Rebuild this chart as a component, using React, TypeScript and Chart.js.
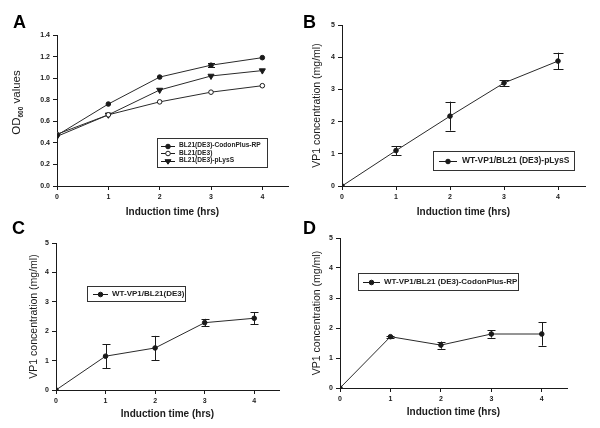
import React, { useEffect, useRef } from 'react';
import { Chart, registerables } from 'chart.js';

Chart.register(...registerables);

// ---------------- data ----------------
const times = [0, 1, 2, 3, 4];

// Panel A: OD600 growth curves
const aCodonPlus = [0.47, 0.76, 1.01, 1.12, 1.19];
const aCodonPlusErr = [0, 0, 0, 0.02, 0];
const aBL21 = [0.48, 0.66, 0.78, 0.87, 0.93];
const aBL21Err = [0, 0, 0, 0, 0];
const aPLysS = [0.46, 0.66, 0.89, 1.02, 1.07];
const aPLysSErr = [0, 0, 0, 0, 0];
const aLabels = ['BL21(DE3)-CodonPlus-RP', 'BL21(DE3)', 'BL21(DE3)-pLysS'];

// Panel B: VP1 in BL21 (DE3)-pLysS
const bValues = [0, 1.1, 2.17, 3.2, 3.88];
const bErrors = [0, 0.14, 0.45, 0.09, 0.26];
const bLabel = 'WT-VP1/BL21 (DE3)-pLysS';

// Panel C: VP1 in BL21(DE3)
const cValues = [0, 1.15, 1.43, 2.29, 2.44];
const cErrors = [0, 0.41, 0.41, 0.13, 0.2];
const cLabel = 'WT-VP1/BL21(DE3)';

// Panel D: VP1 in BL21 (DE3)-CodonPlus-RP
const dValues = [0, 1.71, 1.43, 1.8, 1.8];
const dErrors = [0, 0.03, 0.12, 0.12, 0.39];
const dLabel = 'WT-VP1/BL21 (DE3)-CodonPlus-RP';

const xTitle = 'Induction time (hrs)';
const vpTitle = 'VP1 concentration (mg/ml)';
const letters = ['A', 'B', 'C', 'D'];

// ---------------- styling ----------------
const FONT = "'Liberation Sans', Arial, sans-serif";
const INK = '#1a1a1a';
Chart.defaults.font.family = FONT;
Chart.defaults.color = INK;

type Series = {
  label: string;
  values: number[];
  errors: number[];
  style: 'circle' | 'triangle';
  open?: boolean;
  radius: number;
  rotation?: number;
};

type Panel = {
  left: number; top: number; width: number; height: number;
  area: { l: number; t: number; r: number; b: number };
  yMax: number; yStep: number; yDigits: number;
  yTitle: string | null; yTitlePad: number;
  xTitlePad: number;
  letter: string; letterX: number; letterY: number;
  series: Series[];
  legend: {
    x: number; y: number; w: number; h: number;
    font: string; rows: number[]; lx0: number; lx1: number; tx: number;
  };
  capHalf: number;
};

const panels: Panel[] = [
  {
    left: 0, top: 0, width: 300, height: 222,
    area: { l: 57, t: 35, r: 288, b: 186 },
    yMax: 1.4, yStep: 0.2, yDigits: 1,
    yTitle: null, yTitlePad: 0, xTitlePad: 4,
    letter: letters[0], letterX: 13, letterY: 28,
    series: [
      { label: aLabels[0], values: aCodonPlus, errors: aCodonPlusErr, style: 'circle', radius: 2.3 },
      { label: aLabels[1], values: aBL21, errors: aBL21Err, style: 'circle', open: true, radius: 2.3 },
      { label: aLabels[2], values: aPLysS, errors: aPLysSErr, style: 'triangle', rotation: 180, radius: 3 },
    ],
    legend: { x: 157, y: 138, w: 110, h: 29, font: 'bold 6.6px ' + FONT, rows: [145.5, 153, 160.5], lx0: 161, lx1: 175, tx: 179 },
    capHalf: 3.5,
  },
  {
    left: 300, top: 0, width: 300, height: 222,
    area: { l: 42, t: 25, r: 285, b: 186 },
    yMax: 5, yStep: 1, yDigits: 0,
    yTitle: vpTitle, yTitlePad: 11, xTitlePad: 4,
    letter: letters[1], letterX: 3, letterY: 28,
    series: [{ label: bLabel, values: bValues, errors: bErrors, style: 'circle', radius: 2.3 }],
    legend: { x: 133, y: 151, w: 141, h: 19, font: 'bold 8.5px ' + FONT, rows: [161], lx0: 139, lx1: 157, tx: 162 },
    capHalf: 5,
  },
  {
    left: 0, top: 210, width: 300, height: 218,
    area: { l: 56, t: 33, r: 279, b: 180 },
    yMax: 5, yStep: 1, yDigits: 0,
    yTitle: vpTitle, yTitlePad: 28, xTitlePad: 8,
    letter: letters[2], letterX: 12, letterY: 24,
    series: [{ label: cLabel, values: cValues, errors: cErrors, style: 'circle', radius: 2.3 }],
    legend: { x: 87, y: 76, w: 98, h: 15, font: 'bold 8px ' + FONT, rows: [83.5], lx0: 93, lx1: 108, tx: 112 },
    capHalf: 4,
  },
  {
    left: 300, top: 210, width: 300, height: 218,
    area: { l: 40, t: 28, r: 267, b: 178 },
    yMax: 5, yStep: 1, yDigits: 0,
    yTitle: vpTitle, yTitlePad: 11, xTitlePad: 10,
    letter: letters[3], letterX: 3, letterY: 24,
    series: [{ label: dLabel, values: dValues, errors: dErrors, style: 'circle', radius: 2.3 }],
    legend: { x: 58, y: 63, w: 160, h: 17, font: 'bold 8px ' + FONT, rows: [71.5], lx0: 63, lx1: 80, tx: 84 },
    capHalf: 4,
  },
];

function drawMarker(ctx: CanvasRenderingContext2D, s: Series, x: number, y: number) {
  ctx.save();
  ctx.lineWidth = 1;
  ctx.strokeStyle = INK;
  ctx.fillStyle = s.open ? '#fff' : INK;
  ctx.beginPath();
  if (s.style === 'triangle') {
    const r = s.radius;
    ctx.moveTo(x - r, y - r * 0.6);
    ctx.lineTo(x + r, y - r * 0.6);
    ctx.lineTo(x, y + r * 0.9);
    ctx.closePath();
  } else {
    ctx.arc(x, y, s.radius, 0, Math.PI * 2);
  }
  ctx.fill();
  ctx.stroke();
  ctx.restore();
}

function makeChart(canvas: HTMLCanvasElement, p: Panel) {
  const errorBars = {
    id: 'errorBars',
    afterDatasetsDraw(chart: any) {
      const ctx = chart.ctx as CanvasRenderingContext2D;
      const xs = chart.scales.x;
      const ys = chart.scales.y;
      ctx.save();
      ctx.strokeStyle = INK;
      ctx.lineWidth = 1;
      p.series.forEach((s) => {
        s.errors.forEach((e, i) => {
          if (!e) return;
          const x = Math.round(xs.getPixelForValue(times[i])) + 0.5;
          const y1 = ys.getPixelForValue(s.values[i] + e);
          const y2 = ys.getPixelForValue(s.values[i] - e);
          ctx.beginPath();
          ctx.moveTo(x, y1);
          ctx.lineTo(x, y2);
          ctx.moveTo(x - p.capHalf, Math.round(y1) + 0.5);
          ctx.lineTo(x + p.capHalf, Math.round(y1) + 0.5);
          ctx.moveTo(x - p.capHalf, Math.round(y2) + 0.5);
          ctx.lineTo(x + p.capHalf, Math.round(y2) + 0.5);
          ctx.stroke();
        });
      });
      ctx.restore();
    },
  };

  const decor = {
    id: 'decor',
    afterDraw(chart: any) {
      const ctx = chart.ctx as CanvasRenderingContext2D;
      ctx.save();
      // panel letter
      ctx.fillStyle = '#000';
      ctx.font = 'bold 18px ' + FONT;
      ctx.textBaseline = 'alphabetic';
      ctx.textAlign = 'left';
      ctx.fillText(p.letter, p.letterX, p.letterY);

      // legend
      const L = p.legend;
      ctx.strokeStyle = '#333';
      ctx.lineWidth = 1;
      ctx.strokeRect(L.x + 0.5, L.y + 0.5, L.w, L.h);
      ctx.font = L.font;
      ctx.textBaseline = 'middle';
      p.series.forEach((s, i) => {
        const y = L.rows[i];
        ctx.beginPath();
        ctx.strokeStyle = INK;
        ctx.moveTo(L.lx0, Math.round(y) + 0.5);
        ctx.lineTo(L.lx1, Math.round(y) + 0.5);
        ctx.stroke();
        drawMarker(ctx, s, (L.lx0 + L.lx1) / 2, Math.round(y) + 0.5);
        ctx.fillStyle = '#222';
        ctx.fillText(s.label, L.tx, y);
      });

      // OD600 y title with subscript for panel A
      if (p.yTitle === null) {
        const big = '11.5px ' + FONT;
        const small = 'bold 6.5px ' + FONT;
        ctx.font = big;
        const w1 = ctx.measureText('OD').width;
        const w3 = ctx.measureText(' values').width;
        ctx.font = small;
        const w2 = ctx.measureText('600').width;
        const total = w1 + w2 + w3;
        const cx = 16;
        const cy = (p.area.t + p.area.b) / 2 - 8;
        ctx.translate(cx, cy);
        ctx.rotate(-Math.PI / 2);
        ctx.fillStyle = INK;
        ctx.textBaseline = 'alphabetic';
        let x = -total / 2;
        ctx.font = big;
        ctx.fillText('OD', x, 4);
        x += w1;
        ctx.font = small;
        ctx.fillText('600', x, 6.5);
        x += w2;
        ctx.font = big;
        ctx.fillText(' values', x, 4);
      }
      ctx.restore();
    },
  };

  const tickFont = { size: 7, weight: 'bold' as const };

  return new Chart(canvas, {
    type: 'line',
    data: {
      datasets: p.series.map((s) => ({
        label: s.label,
        data: times.map((t, i) => ({ x: t, y: s.values[i] })),
        borderColor: '#2a2a2a',
        borderWidth: 1,
        pointStyle: s.style,
        pointRotation: s.rotation || 0,
        pointRadius: s.radius + (s.style === 'triangle' ? 0.5 : 0),
        pointBackgroundColor: s.open ? '#fff' : INK,
        pointBorderColor: INK,
        pointBorderWidth: 1,
        tension: 0,
        fill: false,
      })),
    },
    options: {
      responsive: false,
      animation: false,
      devicePixelRatio: 1,
      layout: { padding: { left: 0, top: p.area.t, right: p.width - p.area.r, bottom: 0 } },
      plugins: { legend: { display: false }, tooltip: { enabled: false } },
      scales: {
        x: {
          type: 'linear',
          min: 0,
          max: 4.5,
          ticks: {
            stepSize: 1,
            includeBounds: false,
            font: tickFont,
            color: INK,
            padding: 3,
            maxRotation: 0,
            callback: (v: any) => String(v),
          },
          grid: { drawOnChartArea: false, drawTicks: true, tickLength: 4, color: INK, lineWidth: 1 },
          border: { display: true, color: INK, width: 1 },
          title: {
            display: true,
            text: xTitle,
            font: { size: 10, weight: 'bold' },
            color: INK,
            padding: { top: 0, bottom: p.xTitlePad },
          },
          afterFit: (s: any) => { s.height = p.height - p.area.b; },
        },
        y: {
          type: 'linear',
          min: 0,
          max: p.yMax,
          ticks: {
            stepSize: p.yStep,
            font: tickFont,
            color: INK,
            padding: 3,
            callback: (v: any) => Number(v).toFixed(p.yDigits),
          },
          grid: { drawOnChartArea: false, drawTicks: true, tickLength: 4, color: INK, lineWidth: 1 },
          border: { display: true, color: INK, width: 1 },
          title: {
            display: p.yTitle !== null,
            text: p.yTitle || '',
            font: { size: 10.5 },
            color: INK,
            padding: { top: p.yTitlePad, bottom: 0 },
          },
          afterFit: (s: any) => { s.width = p.area.l; },
        },
      },
    },
    plugins: [errorBars, decor],
  } as any);
}

function PanelCanvas({ p }: { p: Panel }) {
  const ref = useRef<HTMLCanvasElement | null>(null);
  useEffect(() => {
    if (!ref.current) return;
    const chart = makeChart(ref.current, p);
    return () => chart.destroy();
  }, [p]);
  return (
    <canvas
      ref={ref}
      width={p.width}
      height={p.height}
      style={{ position: 'absolute', left: p.left, top: p.top, width: p.width, height: p.height, display: 'block' }}
    />
  );
}

export default function App() {
  useEffect(() => {
    document.body.style.margin = '0';
    document.body.style.background = '#fff';
  }, []);
  return (
    <div style={{ position: 'relative', width: 600, height: 428, background: '#fff', overflow: 'hidden' }}>
      {panels.map((p, i) => (
        <PanelCanvas key={i} p={p} />
      ))}
    </div>
  );
}
